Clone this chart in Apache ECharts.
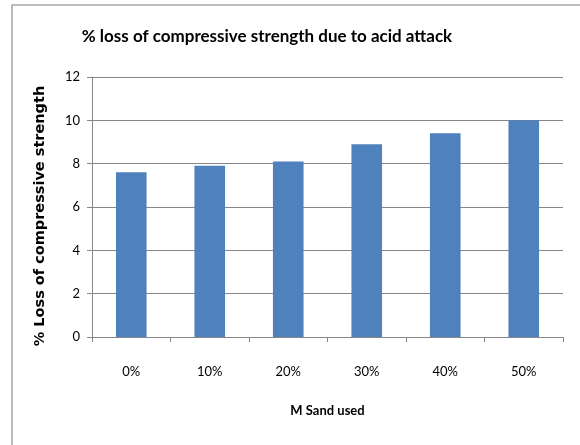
<!DOCTYPE html>
<html><head><meta charset="utf-8">
<script src="https://cdn.jsdelivr.net/npm/echarts@6/dist/echarts.min.js"></script>
<style>html,body{margin:0;padding:0;background:#fff}#c{width:580px;height:445px}</style>
</head><body><div id="c"></div>
<script>
const categories = ['0%', '10%', '20%', '30%', '40%', '50%'];
const lossValues = [7.6, 7.9, 8.1, 8.9, 9.4, 10.0];
const yTicks = [0, 2, 4, 6, 8, 10, 12];

const chart = echarts.init(document.getElementById('c'));
chart.setOption({
  animation: false,
  backgroundColor: '#fff',
  title: {
    text: '% loss of compressive strength due to acid attack',
    left: 262, top: 23, textAlign: 'center',
    textStyle: { fontFamily: 'Lato', fontWeight: 'bold', fontSize: 17, color: '#000' }
  },
  graphic: [
    { type: 'polyline', shape: { points: [[12, 445], [12, 5], [580, 5]] },
      style: { stroke: '#a6a6a6', lineWidth: 1.5, fill: null } }
  ],
  grid: { left: 92, right: 17, top: 77, bottom: 108 },
  xAxis: {
    type: 'category', data: categories,
    name: 'M Sand used', nameLocation: 'middle', nameGap: 67,
    nameTextStyle: { fontFamily: 'Lato', fontWeight: 'bold', fontSize: 13, color: '#000' },
    axisLine: { lineStyle: { color: '#868686' } },
    axisTick: { show: true, length: 5, lineStyle: { color: '#868686' } },
    axisLabel: { fontFamily: 'Lato', fontSize: 13, color: '#000', margin: 28 }
  },
  yAxis: {
    type: 'value', min: yTicks[0], max: yTicks[yTicks.length - 1], interval: 2,
    name: '% Loss of compressive strength', nameLocation: 'middle', nameGap: 44,
    nameTextStyle: { fontFamily: 'DejaVu Sans', fontWeight: 'bold', fontSize: 14.5, color: '#000', padding: [0, 18, 0, 0] },
    axisLine: { show: true, lineStyle: { color: '#868686' } },
    axisTick: { show: true, length: 5, lineStyle: { color: '#868686' } },
    splitLine: { lineStyle: { color: '#868686' } },
    axisLabel: { fontFamily: 'Lato', fontSize: 13, color: '#000', margin: 12 }
  },
  series: [{
    type: 'bar', data: lossValues, barWidth: '39%',
    itemStyle: { color: '#4f81bd' }
  }]
});
</script></body></html>
